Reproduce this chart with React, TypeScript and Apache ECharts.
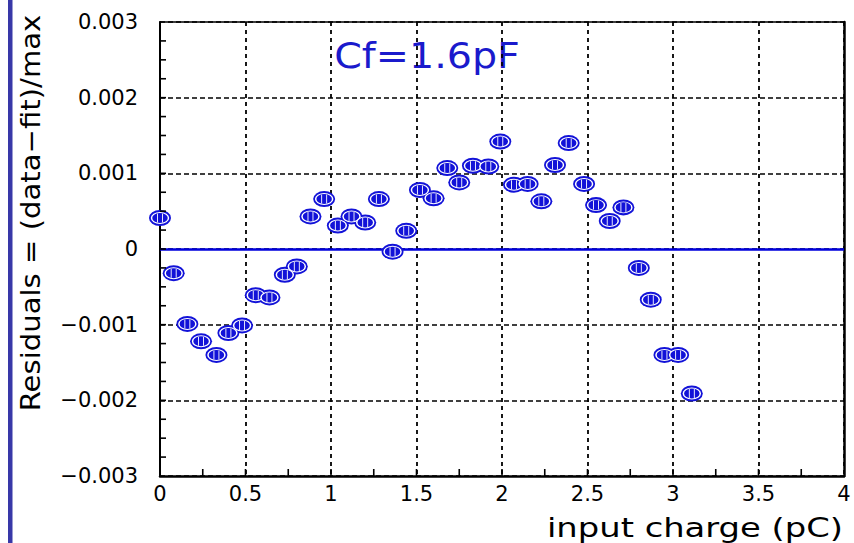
import React, { useEffect, useRef } from "react";
import * as echarts from "echarts";

// input charge (pC)
const chargeValues: number[] = [
  0.0, 0.08, 0.16, 0.24, 0.33, 0.4, 0.48, 0.56, 0.64, 0.73,
  0.8, 0.88, 0.96, 1.04, 1.12, 1.2, 1.28, 1.36, 1.44, 1.52,
  1.6, 1.68, 1.75, 1.83, 1.92, 1.99, 2.07, 2.15, 2.23, 2.31,
  2.39, 2.48, 2.55, 2.63, 2.71, 2.8, 2.87, 2.95, 3.03, 3.11,
];
// residuals = (data - fit) / max
const residualValues: number[] = [
  0.00041, -0.00032, -0.00099, -0.00122, -0.0014, -0.00111, -0.00101, -0.00061, -0.00064, -0.00034,
  -0.00023, 0.00043, 0.00066, 0.00031, 0.00043, 0.00035, 0.00066, -0.000035, 0.00024, 0.00078,
  0.00067, 0.00107, 0.00088, 0.0011, 0.00109, 0.00142, 0.00085, 0.00086, 0.00063, 0.00111,
  0.0014, 0.00086, 0.00058, 0.00037, 0.00055, -0.00025, -0.00067, -0.0014, -0.0014, -0.00191,
];
const xTickValues: number[] = [0, 0.5, 1, 1.5, 2, 2.5, 3, 3.5, 4];
const yTickValues: number[] = [-0.003, -0.002, -0.001, 0, 0.001, 0.002, 0.003];
// small inward ticks along the frame
const xSmallTicks: number[] = [
  0.25, 0.5, 0.75, 1, 1.25, 1.5, 1.75, 2, 2.25, 2.5, 2.75, 3, 3.25, 3.5, 3.75,
];
const ySmallTicks: number[] = [
  -0.00275, -0.0025, -0.00225, -0.002, -0.00175, -0.0015, -0.00125, -0.001, -0.00075, -0.0005, -0.00025, 0,
  0.00025, 0.0005, 0.00075, 0.001, 0.00125, 0.0015, 0.00175, 0.002, 0.00225, 0.0025, 0.00275,
];

const annotationText = "Cf=1.6pF";
const xTitle = "input charge (pC)";
const yTitle = "Residuals = (data\u2212fit)/max";

const ELLIPSE = "path://M0,5A10,5,0,1,0,20,5A10,5,0,1,0,0,5Z";
const BARS = "path://M0,0L0,10M5,0L5,10";

export default function App() {
  const ref = useRef<HTMLDivElement>(null);
  useEffect(() => {
    if (!ref.current) return;
    const chart = echarts.init(ref.current, undefined, { renderer: "svg" });
    const points = chargeValues.map((x, i) => [x, residualValues[i]]);
    const font = "DejaVu Sans";
    const xMin = xTickValues[0];
    const xMax = xTickValues[xTickValues.length - 1];
    const yMin = yTickValues[0];
    const yMax = yTickValues[yTickValues.length - 1];
    chart.setOption({
      animation: false,
      backgroundColor: "#ffffff",
      grid: { left: 160, right: 10, top: 22, bottom: 67 },
      xAxis: [
        {
          type: "value",
          min: xMin,
          max: xMax,
          interval: 0.5,
          axisLine: { show: true, onZero: false, lineStyle: { color: "#000", width: 2.5 } },
          axisTick: { show: false },
          splitLine: { show: true, lineStyle: { color: "#000", width: 1.8, type: [4, 4] } },
          axisLabel: {
            color: "#000",
            fontFamily: font,
            fontSize: 21,
            margin: 7,
            formatter: (v: number) => String(Math.round(v * 10) / 10),
          },
        },
        {
          type: "value",
          position: "top",
          min: xMin,
          max: xMax,
          interval: 0.5,
          axisLine: { show: true, onZero: false, lineStyle: { color: "#000", width: 1.5 } },
          axisTick: { show: false },
          splitLine: { show: false },
          axisLabel: { show: false },
        },
      ],
      yAxis: [
        {
          type: "value",
          min: yMin,
          max: yMax,
          interval: 0.001,
          axisLine: { show: true, onZero: false, lineStyle: { color: "#000", width: 2 } },
          axisTick: { show: false },
          splitLine: { show: true, lineStyle: { color: "#000", width: 1.5, type: [5, 3] } },
          axisLabel: {
            color: "#000",
            fontFamily: font,
            fontSize: 21,
            margin: 22,
            formatter: (v: number) =>
              Math.abs(v) < 1e-9 ? "0" : (v < 0 ? "\u2212" : "") + Math.abs(v).toFixed(3),
          },
        },
        {
          type: "value",
          position: "right",
          min: yMin,
          max: yMax,
          interval: 0.001,
          axisLine: { show: true, onZero: false, lineStyle: { color: "#000", width: 2.5 } },
          axisTick: { show: false },
          splitLine: { show: false },
          axisLabel: { show: false },
        },
      ],
      series: [
        {
          type: "custom",
          xAxisIndex: 0,
          yAxisIndex: 0,
          silent: true,
          clip: false,
          z: 6,
          data: xSmallTicks.map((v) => [v, yMin]),
          encode: { x: 0, y: 1 },
          renderItem: (_p: any, api: any) => {
            const pt = api.coord([api.value(0), api.value(1)]);
            return {
              type: "line",
              shape: { x1: pt[0], y1: pt[1], x2: pt[0], y2: pt[1] - 7 },
              style: { stroke: "#000", lineWidth: 1.6 },
            };
          },
        },
        {
          type: "custom",
          xAxisIndex: 0,
          yAxisIndex: 0,
          silent: true,
          clip: false,
          z: 6,
          data: ySmallTicks.map((v) => [xMin, v]),
          encode: { x: 0, y: 1 },
          renderItem: (_p: any, api: any) => {
            const pt = api.coord([api.value(0), api.value(1)]);
            return {
              type: "line",
              shape: { x1: pt[0], y1: pt[1], x2: pt[0] + 6, y2: pt[1] },
              style: { stroke: "#000", lineWidth: 1.6 },
            };
          },
        },
        {
          type: "scatter",
          xAxisIndex: 0,
          yAxisIndex: 0,
          data: points,
          symbol: ELLIPSE,
          symbolSize: [22, 16],
          itemStyle: { color: "#1212d8", opacity: 1 },
          z: 3,
          silent: true,
          markLine: {
            silent: true,
            symbol: ["none", "none"],
            label: { show: false },
            lineStyle: { color: "#0000dd", width: 2.5, type: "solid" },
            data: [{ yAxis: 0 }],
            z: 2,
          },
        },
        {
          type: "scatter",
          xAxisIndex: 0,
          yAxisIndex: 0,
          data: points,
          symbol: ELLIPSE,
          symbolSize: [17, 11],
          itemStyle: { color: "#1212d8", borderColor: "#ffffff", borderWidth: 1.2, opacity: 1 },
          z: 4,
          silent: true,
        },
        {
          type: "scatter",
          xAxisIndex: 0,
          yAxisIndex: 0,
          data: points,
          symbol: BARS,
          symbolSize: [5, 9],
          itemStyle: { color: "transparent", borderColor: "#ffffff", borderWidth: 1.2, opacity: 1 },
          z: 5,
          silent: true,
        },
      ],
      graphic: [
        {
          type: "rect",
          shape: { x: 8, y: 0, width: 4.5, height: 543 },
          style: { fill: "#3838a8" },
          silent: true,
        },
        {
          type: "text",
          x: 427,
          y: 56,
          scaleX: 1.1,
          style: {
            text: annotationText,
            fill: "#1a1acc",
            font: `36px "${font}"`,
            align: "center",
            verticalAlign: "middle",
          },
          silent: true,
        },
        {
          type: "text",
          x: 843,
          y: 528,
          scaleX: 1.3,
          style: {
            text: xTitle,
            fill: "#000",
            font: `26px "${font}"`,
            align: "right",
            verticalAlign: "middle",
          },
          silent: true,
        },
        {
          type: "text",
          x: 31,
          y: 213,
          rotation: Math.PI / 2,
          scaleX: 1.12,
          style: {
            text: yTitle,
            fill: "#000",
            font: `26px "${font}"`,
            align: "center",
            verticalAlign: "middle",
          },
          silent: true,
        },
      ],
    });
    return () => chart.dispose();
  }, []);
  return (
    <div
      ref={ref}
      style={{ position: "absolute", left: 0, top: 0, width: 854, height: 543 }}
    />
  );
}
